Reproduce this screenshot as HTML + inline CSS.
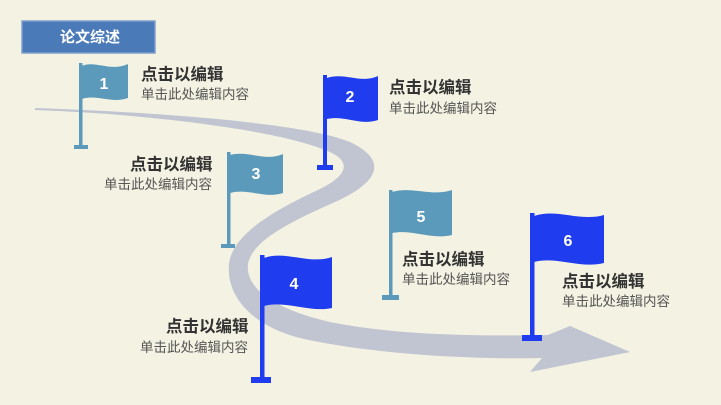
<!DOCTYPE html>
<html><head><meta charset="utf-8"><style>
body{margin:0;width:721px;height:405px;overflow:hidden;background:#f4f2e2;font-family:"Liberation Sans","Noto Sans CJK SC",sans-serif;}
svg{position:absolute;left:0;top:0}
.t{font-weight:bold;font-size:16.5px;fill:#333}
.s{font-size:13.5px;fill:#555}
.n{font-weight:bold;font-size:16px;fill:#fff;font-family:"Liberation Sans",sans-serif}
</style></head><body>
<svg width="721" height="405" viewBox="0 0 721 405">
<rect width="721" height="405" fill="#f4f2e2"/>
<path d="M35,108 C150,112 300,122 350,142 C388,160 380,182 335,202 C285,224 252,242 248,264 C245,290 278,310 330,322 C400,336 480,336 548,335 L570,326 L630,352 L530,372 L542,358 C460,360 360,352 300,338 C250,325 226,295 229,264 C232,236 270,212 318,190 C350,175 352,160 325,150 C275,130 150,114 35,110 Z" fill="#c0c5d1"/>
<rect x="22" y="21" width="133" height="32" fill="#4a7ab8"/>
<rect x="22" y="21" width="133" height="32" fill="none" stroke="#7f9fcc" stroke-width="1.5"/>
<text x="90" y="42" text-anchor="middle" font-weight="bold" font-size="15" fill="#fff">论文综述</text>
<g fill="#5b9aba">
<rect x="79" y="63" width="3.5" height="84"/><rect x="74" y="145" width="14" height="4"/>
<path d="M82,66 C95,60 110,72 128,64 L128,98 C112,104 96,94 82,99 Z"/>
<rect x="227" y="152" width="3.5" height="95"/><rect x="221" y="244" width="14" height="4"/>
<path d="M230,155 C248,150 265,162 283,154 L283,193 C265,199 248,188 230,193 Z"/>
<rect x="389" y="190" width="3.5" height="108"/><rect x="382" y="295" width="17" height="5"/>
<path d="M392,192 C412,186 432,197 452,190 L452,235 C432,240 412,229 392,233 Z"/>
</g>
<g fill="#1f3cef">
<rect x="323" y="75" width="4" height="93"/><rect x="317" y="165" width="16" height="5"/>
<path d="M327,78 C345,72 360,84 378,76 L378,120 C360,126 345,115 327,119 Z"/>
<rect x="260" y="255" width="4.5" height="125"/><rect x="251" y="377" width="20" height="6"/>
<path d="M264,258 C285,250 310,265 332,257 L332,308 C310,313 285,300 264,306 Z"/>
<rect x="530" y="213" width="4.5" height="125"/><rect x="522" y="335" width="20" height="6"/>
<path d="M534,216 C556,208 580,222 604,215 L604,263 C580,269 556,256 534,262 Z"/>
</g>
<text class="n" x="104" y="89" text-anchor="middle">1</text>
<text class="n" x="350" y="102" text-anchor="middle">2</text>
<text class="n" x="256" y="179" text-anchor="middle">3</text>
<text class="n" x="294" y="289" text-anchor="middle">4</text>
<text class="n" x="421" y="222" text-anchor="middle">5</text>
<text class="n" x="568" y="246" text-anchor="middle">6</text>
<text class="t" x="141" y="80">点击以编辑</text><text class="s" x="141" y="99">单击此处编辑内容</text>
<text class="t" x="389" y="93">点击以编辑</text><text class="s" x="389" y="113">单击此处编辑内容</text>
<text class="t" x="130" y="170">点击以编辑</text><text class="s" x="104" y="189">单击此处编辑内容</text>
<text class="t" x="166" y="332">点击以编辑</text><text class="s" x="140" y="352">单击此处编辑内容</text>
<text class="t" x="402" y="265">点击以编辑</text><text class="s" x="402" y="284">单击此处编辑内容</text>
<text class="t" x="562" y="287">点击以编辑</text><text class="s" x="562" y="306">单击此处编辑内容</text>
</svg>
</body></html>
